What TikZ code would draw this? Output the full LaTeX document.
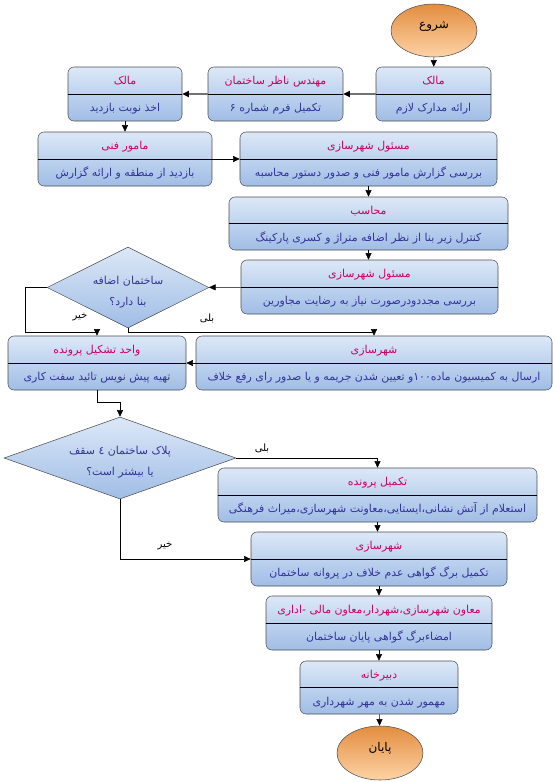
\documentclass[tikz,border=0pt]{standalone}
\usepackage{fontspec}
\usetikzlibrary{shapes.geometric,arrows.meta}
\newfontfamily\arabicfont[Script=Arabic]{DejaVu Sans}
\TeXXeTstate=1
\definecolor{hdcol}{HTML}{CC0066}
\definecolor{bdcol}{HTML}{333399}
\definecolor{boxtop}{HTML}{DCE8F7}
\definecolor{boxbot}{HTML}{A0BDE6}
\definecolor{ovtop}{HTML}{E38D3F}
\definecolor{ovbot}{HTML}{FDD3A6}
\definecolor{edge}{HTML}{4D4D4D}
\newcommand{\hd}{\color{hdcol}\rule{0pt}{10pt}}
\newcommand{\bd}{\color{bdcol}\rule[-4pt]{0pt}{4pt}}
\newcommand{\qtop}{\rule{0pt}{13.5pt}}
\newcommand{\qbot}{\rule[-3pt]{0pt}{3pt}}
\newcommand{\ovl}{\rule[-12pt]{0pt}{21pt}}

\begin{document}
\begin{tikzpicture}[x=0.75pt,y=-0.75pt,
  box/.style={draw=edge,rounded corners=4.5pt,top color=boxtop,bottom color=boxbot,
    minimum width=#1*0.75pt,minimum height=54*0.75pt,inner sep=0pt,align=center,
    font=\arabicfont\fontsize{8.2}{20.25}\selectfont},
  oval/.style={ellipse,draw=edge,top color=ovtop,bottom color=ovbot,
    minimum width=86*0.75pt,minimum height=53*0.75pt,inner sep=0pt,
    font=\arabicfont\fontsize{9}{10}\selectfont},
  ask/.style={diamond,draw=edge,top color=boxtop,bottom color=boxbot,
    inner sep=0pt,align=center,text=bdcol,font=\arabicfont\fontsize{8.2}{15.75}\selectfont},
  lbl/.style={font=\arabicfont\fontsize{7.5}{8}\selectfont},
  flow/.style={draw,-{Triangle[length=5pt,width=4.5pt]}},
  flowg/.style={draw=gray!90!black,line width=1.4pt,-{Triangle[length=5pt,width=4.5pt,color=black]}}]
\useasboundingbox (0,0) rectangle (556,782);

\node[oval] (start) at (434,30.5) {\ovl\beginR شروع\endR};
\node[box=115] (own1) at (433.5,94) {{\hd\beginR مالک\endR}\\{\bd\beginR ارائه مدارک لازم\endR}};
\node[box=135] (eng) at (275.5,94) {{\hd\beginR مهندس ناظر ساختمان\endR}\\{\bd\beginR تکمیل فرم شماره ۶\endR}};
\node[box=114] (own2) at (125,94) {{\hd\beginR مالک\endR}\\{\bd\beginR اخذ نوبت بازدید\endR}};
\node[box=174] (tech) at (125,159) {{\hd\beginR مامور فنی\endR}\\{\bd\beginR بازدید از منطقه و ارائه گزارش\endR}};
\node[box=257] (urb1) at (368.5,159) {{\hd\beginR مسئول شهرسازی\endR}\\{\bd\beginR بررسی گزارش مامور فنی و صدور دستور محاسبه\endR}};
\node[box=279,minimum height=53*0.75pt] (calc) at (368.5,223.5) {{\hd\beginR محاسب\endR}\\{\bd\beginR کنترل زیر بنا از نظر اضافه متراژ و کسری پارکینگ\endR}};
\node[box=257] (urb2) at (369.5,287) {{\hd\beginR مسئول شهرسازی\endR}\\{\bd\beginR بررسی مجددودرصورت نیاز به رضایت مجاورین\endR}};
\node[ask,aspect=2,minimum width=162*0.75pt,minimum height=81*0.75pt] (q1) at (128,287.5)
  {\qtop\beginR ساختمان اضافه\endR\\\qbot\beginR بنا دارد؟\endR};
\node[box=178] (file) at (97,363) {{\hd\beginR واحد تشکیل پرونده\endR}\\{\bd\beginR تهیه پیش نویس تائید سفت کاری\endR}};
\node[box=356] (comm) at (374,363) {{\hd\beginR شهرسازی\endR}\\{\bd\beginR ارسال به کمیسیون ماده۱۰۰و تعیین شدن جریمه و یا صدور رای رفع خلاف\endR}};
\node[ask,aspect=2.8,minimum width=232*0.75pt,minimum height=82*0.75pt] (q2) at (120,458)
  {\qtop\beginR پلاک ساختمان ٤ سقف\endR\\\qbot\beginR یا بیشتر است؟\endR};
\node[box=319] (done) at (377.5,495) {{\hd\beginR تکمیل پرونده\endR}\\{\bd\beginR استعلام از آتش نشانی،ایستایی،معاونت شهرسازی،میراث فرهنگی\endR}};
\node[box=256] (cert) at (379,559) {{\hd\beginR شهرسازی\endR}\\{\bd\beginR تکمیل برگ گواهی عدم خلاف در پروانه ساختمان\endR}};
\node[box=226] (dep) at (379,623) {{\hd\beginR معاون شهرسازی،شهردار،معاون مالی -اداری\endR}\\{\bd\beginR امضاءبرگ گواهی پایان ساختمان\endR}};
\node[box=158,minimum height=53*0.75pt] (sec) at (379,687.5) {{\hd\beginR دبیرخانه\endR}\\{\bd\beginR مهمور شدن به مهر شهرداری\endR}};
\node[oval,minimum height=54*0.75pt] (stop) at (380,753) {\ovl\beginR پایان\endR};

\foreach \n in {own1,eng,own2,tech,urb1,calc,urb2,file,comm,done,cert,dep,sec}
  \draw (\n.west) -- (\n.east);

\node[lbl] (no1) at (80,317) {\beginR خیر\endR};
\node[lbl] (yes1) at (207,318) {\beginR بلی\endR};
\node[lbl] (yes2) at (262,448) {\beginR بلی\endR};
\node[lbl] (no2) at (165,546) {\beginR خیر\endR};

\draw[flow] (start) -- (own1);
\draw[flowg] (own1) -- (eng);
\draw[flowg] (eng) -- (own2);
\draw[flow] (own2) -- (tech);
\draw[flow] (tech) -- (urb1);
\draw[flow] (urb1.south) -- (calc.north -| urb1.south);
\draw[flow] (calc.south) -- (urb2.north -| calc.south);
\draw[flow] (urb2) -- (q1);
\draw[flow] (q1.west) -- ++(-21,0) -- ++(0,44.5) -| (file.north);
\draw[flow] (q1.south) -- ++(0,4) -| (comm.north);
\draw[flow] (comm) -- (file);
\draw[flow] (file.south) -- ++(0,12) -| (q2.north);
\draw[flow] (q2.east) -| (done.north);
\draw[flow] (q2.south) |- (cert.west);
\draw[flow] (done.south) -- (cert.north -| done.south);
\draw[flow] (cert) -- (dep);
\draw[flow] (dep) -- (sec);
\draw[flow] (sec) -- (stop);
\end{tikzpicture}
\end{document}
